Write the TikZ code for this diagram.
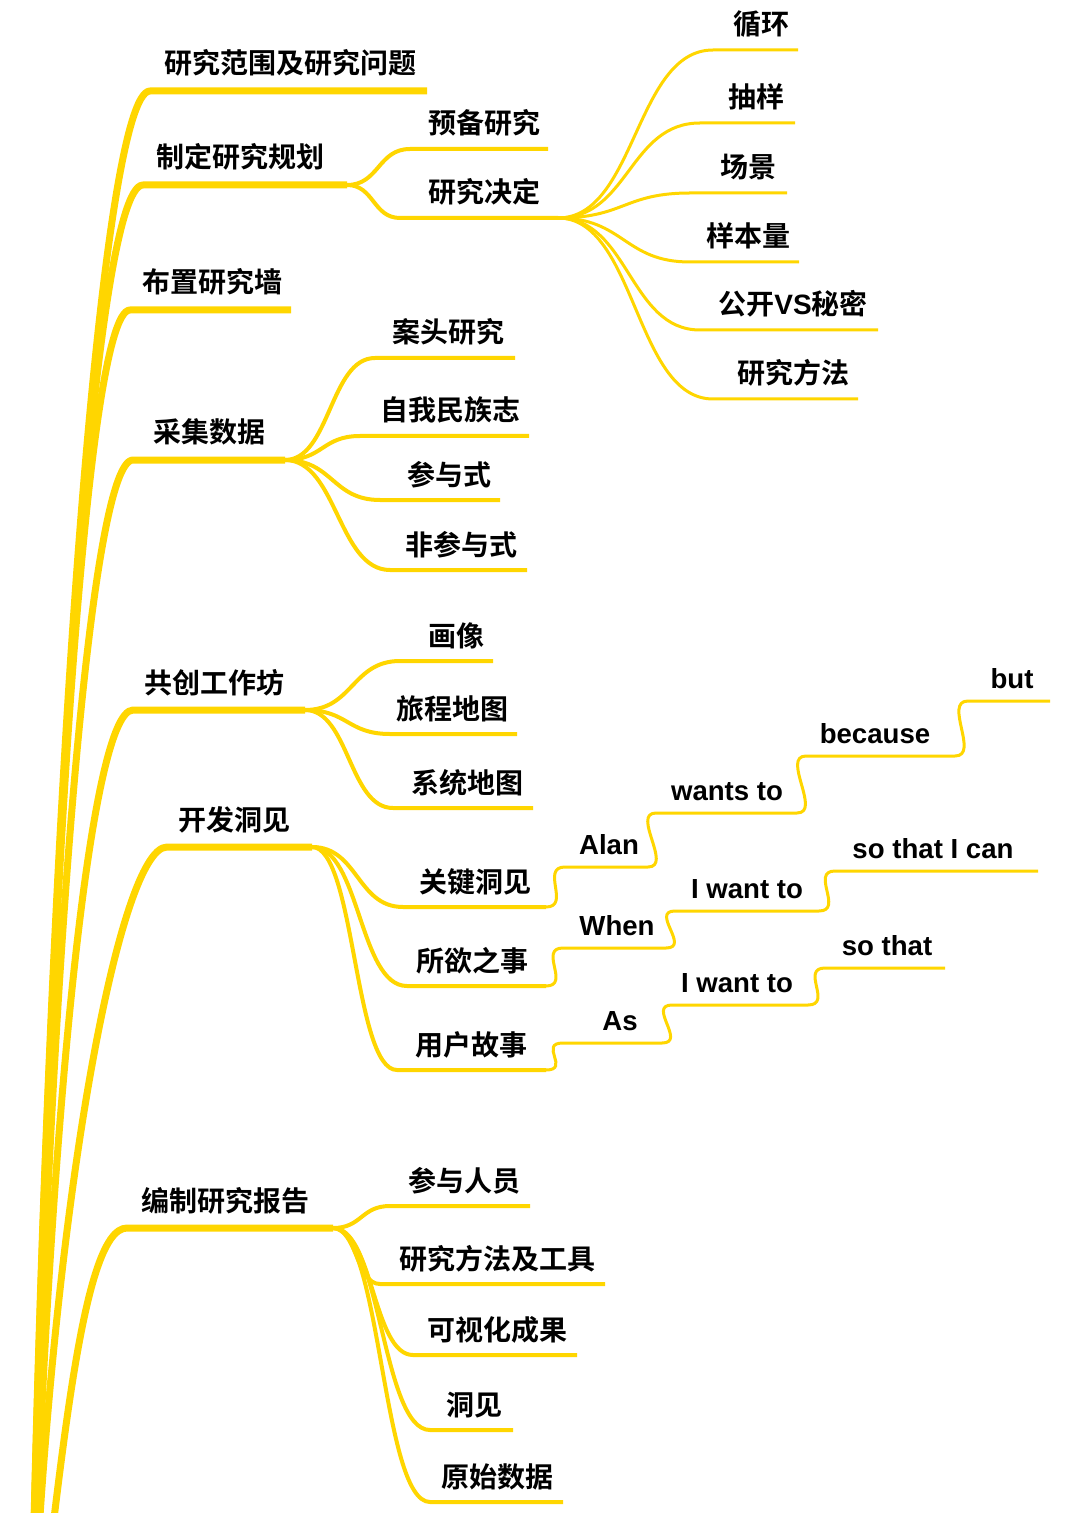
\documentclass[tikz,border=0pt]{standalone}
\usepackage{fontspec}
\newfontfamily\cjk{Noto Sans CJK SC}[UprightFont={* Bold}]
\newfontfamily\en{Liberation Sans}
\definecolor{ylw}{RGB}{255,214,0}
\begin{document}
\begin{tikzpicture}[x=0.5pt,y=-0.5pt,
  cn/.style={font=\cjk\fontsize{14}{16}\selectfont, inner sep=0pt, anchor=base},
  en/.style={font=\en\bfseries\fontsize{13.8}{16}\selectfont, inner sep=0pt, anchor=base},
  br1/.style={draw=ylw, line width=3.5pt, line join=round},
  br2/.style={draw=ylw, line width=2pt, line join=round},
  br3/.style={draw=ylw, line width=1.5pt, line join=round}]
\fill[white] (0,0) rectangle (1080,1513);
\clip (0,0) rectangle (1080,1513);

% ---------- coordinates ----------
\coordinate (root) at (30,1720);
\coordinate (a1s) at (150,91);  \coordinate (a1e) at (427,91);
\coordinate (a2s) at (143,185); \coordinate (a2e) at (347,185);
\coordinate (a3s) at (130,310); \coordinate (a3e) at (291,310);
\coordinate (a4s) at (133,460); \coordinate (a4e) at (285,460);
\coordinate (a5s) at (133,710); \coordinate (a5e) at (305,710);
\coordinate (a6s) at (167,847); \coordinate (a6e) at (312,847);
\coordinate (a7s) at (127,1228); \coordinate (a7e) at (333,1228);

\coordinate (b1s) at (410,149); \coordinate (b1e) at (548,149);
\coordinate (b2s) at (400,218); \coordinate (b2e) at (558,218);

\coordinate (c1s) at (375,358); \coordinate (c1e) at (515,358);
\coordinate (c2s) at (360,436); \coordinate (c2e) at (529,436);
\coordinate (c3s) at (380,500); \coordinate (c3e) at (500,500);
\coordinate (c4s) at (390,570); \coordinate (c4e) at (527,570);

\coordinate (d1s) at (400,661); \coordinate (d1e) at (493,661);
\coordinate (d2s) at (390,734); \coordinate (d2e) at (517,734);
\coordinate (d3s) at (393,808); \coordinate (d3e) at (533,808);

\coordinate (e1s) at (403,907); \coordinate (e1e) at (546,907);
\coordinate (e2s) at (407,986); \coordinate (e2e) at (546,986);
\coordinate (e3s) at (397,1070); \coordinate (e3e) at (546,1070);

\coordinate (f1s) at (390,1206); \coordinate (f1e) at (530,1206);
\coordinate (f2s) at (380,1284); \coordinate (f2e) at (605,1284);
\coordinate (f3s) at (413,1355); \coordinate (f3e) at (577,1355);
\coordinate (f4s) at (430,1430); \coordinate (f4e) at (513,1430);
\coordinate (f5s) at (430,1502); \coordinate (f5e) at (563,1502);

\coordinate (g1s) at (713,50);  \coordinate (g1e) at (798,50);
\coordinate (g2s) at (700,123); \coordinate (g2e) at (795,123);
\coordinate (g3s) at (690,193); \coordinate (g3e) at (787,193);
\coordinate (g4s) at (690,262); \coordinate (g4e) at (799,262);
\coordinate (g5s) at (700,330); \coordinate (g5e) at (878,330);
\coordinate (g6s) at (713,399); \coordinate (g6e) at (858,399);

\coordinate (h1s) at (565,867); \coordinate (h1e) at (648,867);
\coordinate (h2s) at (656,813); \coordinate (h2e) at (797,813);
\coordinate (h3s) at (806,756); \coordinate (h3e) at (955,756);
\coordinate (h4s) at (968,701); \coordinate (h4e) at (1050,701);

\coordinate (i1s) at (563,948); \coordinate (i1e) at (666,948);
\coordinate (i2s) at (675,911); \coordinate (i2e) at (819,911);
\coordinate (i3s) at (835,871); \coordinate (i3e) at (1038,871);

\coordinate (j1s) at (563,1043); \coordinate (j1e) at (662,1043);
\coordinate (j2s) at (672,1005); \coordinate (j2e) at (808,1005);
\coordinate (j3s) at (825,968);  \coordinate (j3e) at (945,968);

% ---------- level 1 branches ----------
\draw[br1] (root) .. controls +(15,-895) and +(-50,0) .. (a1s) -- (a1e);
\draw[br1] (root) .. controls +(15,-844) and +(-50,0) .. (a2s) -- (a2e);
\draw[br1] (root) .. controls +(15,-775) and +(-45,0) .. (a3s) -- (a3e);
\draw[br1] (root) .. controls +(15,-693) and +(-45,0) .. (a4s) -- (a4e);
\draw[br1] (root) .. controls +(15,-556) and +(-45,0) .. (a5s) -- (a5e);
\draw[br1] (root) .. controls +(15,-480) and +(-50,0) .. (a6s) -- (a6e);
\draw[br1] (root) .. controls +(30,-240) and +(-47,0) .. (a7s) -- (a7e);

% ---------- level 2 branches ----------
\foreach \p/\c/\h in {a2/b1/32, a2/b2/27, a4/c1/45, a4/c2/38, a4/c3/48, a4/c4/52,
                   a5/d1/48, a5/d2/43, a5/d3/44, a6/e1/46, a6/e2/48, a6/e3/43,
                   a7/f1/29, a7/f2/24, a7/f3/40, a7/f4/48, a7/f5/48}{
  \draw[br2] (\p e) .. controls +(\h,0) and +(-\h,0) .. (\c s) -- (\c e);
}
% ---------- level 3 branches ----------
\foreach \c/\h in {g1/78, g2/71, g3/66, g4/66, g5/71, g6/78}{
  \draw[br3] (b2e) .. controls +(\h,0) and +(-\h,0) .. (\c s) -- (\c e);
}
% ---------- step chains ----------
\foreach \a/\b in {e1/h1, h1/h2, h2/h3, h3/h4,
                   e2/i1, i1/i2, i2/i3,
                   e3/j1, j1/j2, j2/j3}{
  \draw[br3] (\a e) .. controls +(25,0) and +(-25,0) .. (\b s) -- (\b e);
}

% ---------- labels ----------
\node[cn] (n1) at (290,74)  {研究范围及研究问题};
\node[cn] (n2) at (240,168) {制定研究规划};
\node[cn] (n3) at (212,293) {布置研究墙};
\node[cn] (n4) at (209,443) {采集数据};
\node[cn] (n5) at (214,693) {共创工作坊};
\node[cn] (n6) at (234,830) {开发洞见};
\node[cn] (n7) at (225,1211) {编制研究报告};

\node[cn] (m1) at (484,134) {预备研究};
\node[cn] (m2) at (484,203) {研究决定};
\node[cn] (m3) at (448,343) {案头研究};
\node[cn] (m4) at (450,421) {自我民族志};
\node[cn] (m5) at (449,485) {参与式};
\node[cn] (m6) at (461,555) {非参与式};
\node[cn] (m7) at (456,646) {画像};
\node[cn] (m8) at (452,719) {旅程地图};
\node[cn] (m9) at (467,793) {系统地图};
\node[cn] (m10) at (475,892) {关键洞见};
\node[cn] (m11) at (472,971) {所欲之事};
\node[cn] (m12) at (471,1055) {用户故事};
\node[cn] (m13) at (464,1191) {参与人员};
\node[cn] (m14) at (497,1269) {研究方法及工具};
\node[cn] (m15) at (497,1340) {可视化成果};
\node[cn] (m16) at (474,1415) {洞见};
\node[cn] (m17) at (497,1487) {原始数据};

\node[cn] (k1) at (761,35)  {循环};
\node[cn] (k2) at (756,108) {抽样};
\node[cn] (k3) at (748,178) {场景};
\node[cn] (k4) at (748,247) {样本量};
\node[cn] (k5) at (793,315) {公开{\en\bfseries VS}秘密};
\node[cn] (k6) at (793,384) {研究方法};

\node[en] (w1) at (609,854) {Alan};
\node[en] (w2) at (727,800) {wants to};
\node[en] (w3) at (875,743) {because};
\node[en] (w4) at (1012,688) {but};
\node[en] (w5) at (617,935) {When};
\node[en] (w6) at (747,898) {I want to};
\node[en] (w7) at (933,858) {so that I can};
\node[en] (w8) at (620,1030) {As};
\node[en] (w9) at (737,992) {I want to};
\node[en] (w10) at (887,955) {so that};
\end{tikzpicture}
\end{document}
